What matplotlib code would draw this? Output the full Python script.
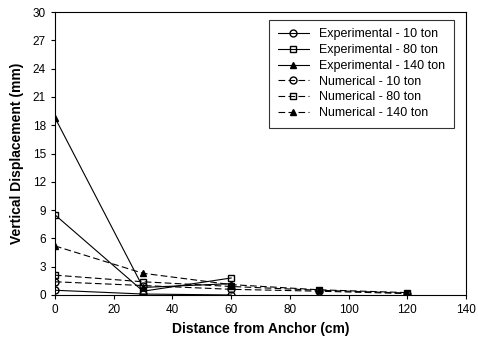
import matplotlib
matplotlib.use("Agg")
import matplotlib.pyplot as plt

plt.rcParams['font.family'] = ['Liberation Sans', 'DejaVu Sans']

x_exp = [0, 30, 60]
x_num = [0, 30, 60, 90, 120]

exp_10 = [0.5, 0.1, 0.0]
exp_80 = [8.5, 0.4, 1.8]
exp_140 = [18.8, 0.8, 1.2]
num_10 = [1.4, 1.0, 0.6, 0.4, 0.15]
num_80 = [2.1, 1.4, 0.9, 0.5, 0.2]
num_140 = [5.2, 2.3, 1.1, 0.55, 0.25]

labels = ["Experimental - 10 ton", "Experimental - 80 ton", "Experimental - 140 ton",
          "Numerical - 10 ton", "Numerical - 80 ton", "Numerical - 140 ton"]

fig = plt.figure(figsize=(4.78, 3.45), dpi=100)
ax = fig.add_axes([0.115, 0.145, 0.86, 0.82])

ms = 5
ax.plot(x_exp, exp_10, '-', color='black', lw=0.8, marker='o', mfc='none', ms=ms, label=labels[0])
ax.plot(x_exp, exp_80, '-', color='black', lw=0.8, marker='s', mfc='none', ms=ms, label=labels[1])
ax.plot(x_exp, exp_140, '-', color='black', lw=0.8, marker='^', mfc='black', ms=ms - 1, label=labels[2])
ax.plot(x_num, num_10, '--', color='black', lw=0.8, dashes=(6, 3), marker='o', mfc='none', ms=ms, label=labels[3])
ax.plot(x_num, num_80, '--', color='black', lw=0.8, dashes=(6, 3), marker='s', mfc='none', ms=ms, label=labels[4])
ax.plot(x_num, num_140, '--', color='black', lw=0.8, dashes=(6, 3), marker='^', mfc='black', ms=ms, label=labels[5])

ax.set_xlim(0, 140)
ax.set_ylim(0, 30)
ax.set_xticks(range(0, 141, 20))
ax.set_yticks(range(0, 31, 3))
ax.tick_params(labelsize=8.5, direction='out', length=3, width=0.8)
for s in ax.spines.values():
    s.set_linewidth(0.8)

ax.set_xlabel("Distance from Anchor (cm)", fontsize=10, fontweight='bold')
ax.set_ylabel("Vertical Displacement (mm)", fontsize=10, fontweight='bold', labelpad=6)

leg = ax.legend(loc='upper right', fontsize=9, frameon=True, fancybox=False,
                edgecolor='black', handlelength=2.5, labelspacing=0.3,
                borderpad=0.7, bbox_to_anchor=(0.985, 0.995))
leg.get_frame().set_linewidth(0.8)

fig.savefig("out.png", dpi=100)
